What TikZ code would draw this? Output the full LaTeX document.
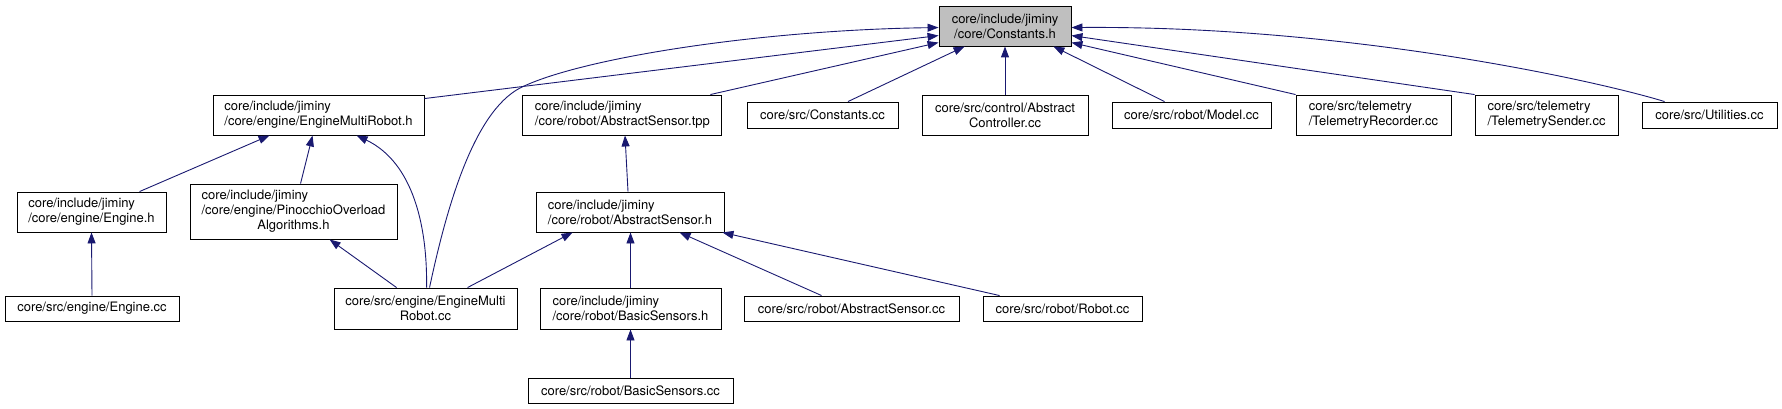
\documentclass[tikz,border=0pt]{standalone}
\usepackage{fontspec}
\setmainfont{TeX Gyre Heros}
\usetikzlibrary{arrows.meta,calc}
\definecolor{edgeblue}{HTML}{191970}
\definecolor{boxgray}{HTML}{BFBFBF}
\begin{document}
\begin{tikzpicture}[x=1pt,y=-1pt,
  box/.style={draw=black, line width=0.9pt, rectangle, inner sep=0pt, fill=white,
    font=\fontsize{13}{15}\selectfont},
  wh/.style 2 args={minimum width=#1pt, minimum height=#2pt},
  edge/.style={draw=edgeblue, line width=0.9pt, -{Triangle[length=11pt,width=8pt]}, edgeblue}
]
\useasboundingbox (0,0) rectangle (1782,409);

% top row
\node[box, wh={132}{40}, fill=boxgray, align=center] (const) at (1005,26) {core/include/jiminy\\/core/Constants.h};
\node[box, wh={211}{40}, align=left] (emrh) at (318.5,115) {core/include/jiminy\\/core/engine/EngineMultiRobot.h};
\node[box, wh={199}{40}, align=left] (tpp) at (622.4,115) {core/include/jiminy\\/core/robot/AbstractSensor.tpp};
\node[box, wh={151}{26}] (constcc) at (822.5,115) {core/src/Constants.cc};
\node[box, wh={166}{40}, align=center] (actrl) at (1005,115) {core/src/control/Abstract\\Controller.cc};
\node[box, wh={159}{26}] (model) at (1191.5,115) {core/src/robot/Model.cc};
\node[box, wh={155}{40}, align=left] (trec) at (1373.5,115) {core/src/telemetry\\/TelemetryRecorder.cc};
\node[box, wh={143}{40}, align=left] (tsend) at (1546.5,115) {core/src/telemetry\\/TelemetrySender.cc};
\node[box, wh={135}{26}] (util) at (1709.5,115) {core/src/Utilities.cc};

% middle row
\node[box, wh={149}{40}, align=left] (engh) at (91.5,212) {core/include/jiminy\\/core/engine/Engine.h};
\node[box, wh={207}{55}] (pino) at (293.5,211.5) {\begin{tabular}{@{}l@{}}core/include/jiminy\\/core/engine/PinocchioOverload\\\multicolumn{1}{@{}c@{}}{Algorithms.h}\end{tabular}};
\node[box, wh={188}{40}, align=left] (ash) at (630,212) {core/include/jiminy\\/core/robot/AbstractSensor.h};

% lower row
\node[box, wh={174}{25}] (enginecc) at (92,308.5) {core/src/engine/Engine.cc};
\node[box, wh={183}{41}, align=center] (emrcc) at (425.5,308.5) {core/src/engine/EngineMulti\\Robot.cc};
\node[box, wh={181}{41}, align=left] (bsh) at (630.5,308.5) {core/include/jiminy\\/core/robot/BasicSensors.h};
\node[box, wh={215}{25}] (ascc) at (851.5,308.5) {core/src/robot/AbstractSensor.cc};
\node[box, wh={159}{25}] (robotcc) at (1062.5,308.5) {core/src/robot/Robot.cc};

% bottom row
\node[box, wh={205}{25}] (bscc) at (630.5,390.5) {core/src/robot/BasicSensors.cc};

% edges into Constants.h
\draw[edge] ($(emrcc.north west)+(96,0)$) .. controls ($(emrcc.north west)+(113,-80)$) and ($(emrcc.north west)+(140,-175)$) .. (520,88)
  .. controls (580,58) and (760,30) .. ($(const.north west)+(0,22)$);
\draw[edge] ($(emrh.north east)+(0,4)$) -- ($(const.north west)+(0,30)$);
\draw[edge] ($(tpp.north east)+(-12,0)$) -- ($(const.north west)+(0,37)$);
\draw[edge] ($(constcc.north)+(25.5,0)$) -- ($(const.south west)+(26,0)$);
\draw[edge] (actrl.north) -- (const.south);
\draw[edge] ($(model.north west)+(53,0)$) -- ($(const.south east)+(-18,0)$);
\draw[edge] (trec.north west) -- ($(const.north east)+(0,37)$);
\draw[edge] (tsend.north west) -- ($(const.north east)+(0,30)$);
\draw[edge] ($(util.north west)+(23,0)$) .. controls ($(util.north west)+(-42,-20)$) and ($(const.north east)+(279,20)$) .. ($(const.north east)+(0,22)$);

% edges into EngineMultiRobot.h
\draw[edge] ($(engh.north west)+(123,0)$) -- ($(emrh.south west)+(57,0)$);
\draw[edge] ($(pino.north west)+(111,0)$) -- ($(emrh.south west)+(100,0)$);
\draw[edge] ($(emrcc.north west)+(93,0)$) .. controls ($(emrcc.north west)+(94,-60)$) and ($(emrcc.north west)+(80,-125)$) .. ($(emrh.south west)+(144,0)$);

% other edges
\draw[edge] (enginecc.north) -- (engh.south);
\draw[edge] ($(emrcc.north west)+(63,0)$) -- ($(pino.south west)+(140,0)$);
\draw[edge] ($(emrcc.north west)+(134,0)$) -- ($(ash.south west)+(37,0)$);
\draw[edge] ($(ash.north)+(-2,0)$) -- ($(tpp.south)+(2.6,0)$);
\draw[edge] (bsh.north) -- (bsh.north |- ash.south);
\draw[edge] ($(ascc.north west)+(78,0)$) -- ($(ash.south west)+(144,0)$);
\draw[edge] ($(robotcc.north west)+(17,0)$) -- ($(ash.south east)+(-2,0)$);
\draw[edge] (bscc.north) -- (bsh.south);
\end{tikzpicture}
\end{document}
